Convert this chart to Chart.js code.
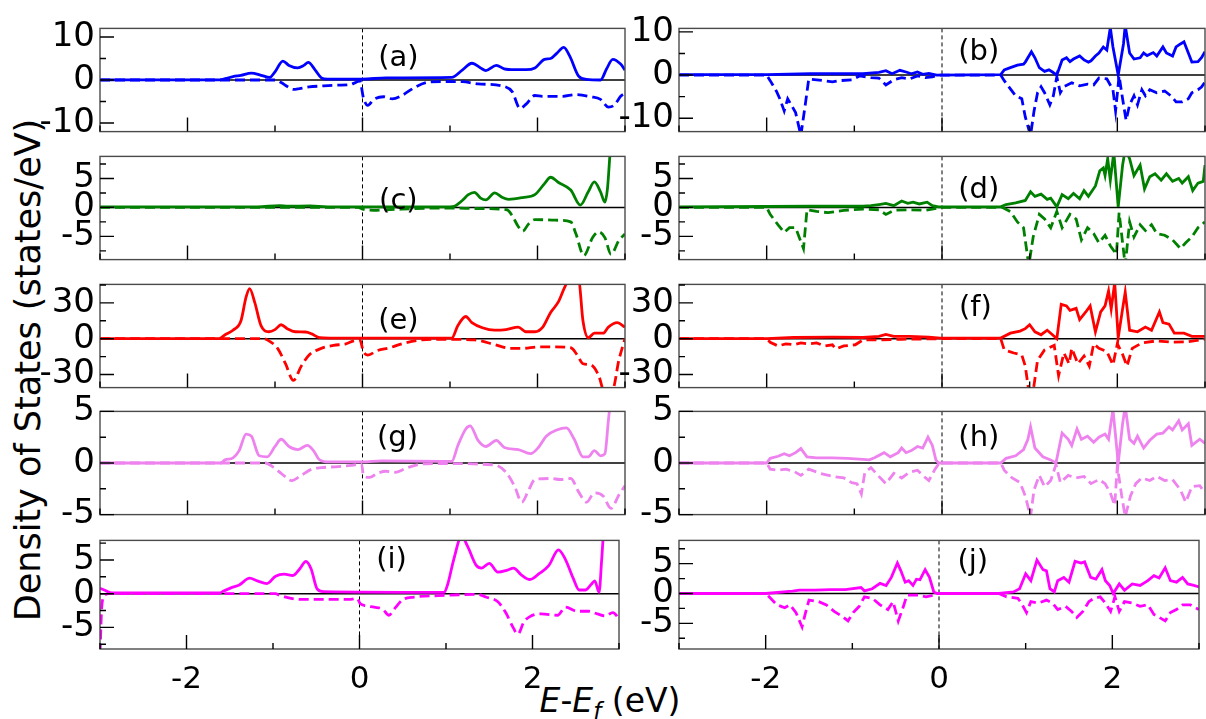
<!DOCTYPE html>
<html>
<head>
<meta charset="utf-8">
<title>Density of States</title>
<script src="https://cdn.jsdelivr.net/npm/chart.js@4.4.0/dist/chart.umd.min.js"></script>
<style>
  body { margin: 0; background: #fff; }
  #fig { position: relative; width: 1206px; height: 719px; overflow: hidden; font-family: "DejaVu Sans", sans-serif; color: #000; }
  .panel { position: absolute; }
  .panel canvas { display: block; }
  #ylab {
    position: absolute; left: -272px; top: 350px; width: 600px; height: 40px;
    line-height: 40px; text-align: center; font-size: 35px; white-space: nowrap;
    transform: rotate(-90deg);
  }
  #xlab {
    position: absolute; left: 460px; top: 682px; width: 300px; height: 38px;
    line-height: 38px; text-align: center; font-size: 33px; white-space: nowrap;
  }
  #xlab i { font-style: oblique; }
  #xlab sub { font-size: 0.7em; vertical-align: -0.3em; line-height: 0; }
</style>
</head>
<body>
<div id="fig">
  <div id="ylab">Density of States (states/eV)</div>
  <div id="xlab"><i>E</i>-<i>E<sub>f</sub></i> (eV)</div>
</div>
<script>
// DOS curves, [E - Ef (eV), states/eV]; "Up" = spin up (solid), "Dn" = spin down (dashed)
const aUp = [[-3,0.05],[-1.63,0.05],[-1.57,0.3],[-1.48,0.8],[-1.39,1.07],[-1.27,1.6],[-1.16,1.1],[-1.06,0.6],[-1.0,1.9],[-0.91,4.4],[-0.84,3.4],[-0.74,2.8],[-0.67,3.4],[-0.62,4.1],[-0.54,2.3],[-0.47,0.5],[-0.40,0.2],[0,0.2],[0.27,0.5],[1.02,0.6],[1.14,2.3],[1.25,3.9],[1.35,2.8],[1.41,2.2],[1.53,3.4],[1.62,2.6],[1.74,2.4],[1.87,2.4],[1.97,2.8],[2.08,4.8],[2.15,5.0],[2.22,6.2],[2.30,7.6],[2.37,5.5],[2.47,0.9],[2.56,0.15],[2.72,0],[2.79,2.6],[2.86,4.8],[2.95,3.7],[3.0,2.3]];
const aDn = [[-3,0],[-1.0,0],[-0.93,-0.6],[-0.86,-1.5],[-0.79,-2.2],[-0.72,-2.0],[-0.61,-1.6],[-0.47,-1.4],[-0.28,-1.2],[-0.15,-1.1],[-0.08,-0.6],[-0.03,-0.2],[0.01,-4.1],[0.06,-5.9],[0.13,-4.5],[0.24,-3.9],[0.34,-4.4],[0.45,-3.6],[0.59,-1.8],[0.73,-0.6],[0.91,-0.35],[1.14,-0.4],[1.32,-0.9],[1.60,-1.4],[1.71,-2.7],[1.80,-6.6],[1.87,-5.6],[1.97,-3.6],[2.06,-3.8],[2.29,-3.8],[2.43,-3.4],[2.61,-3.9],[2.72,-4.5],[2.81,-6.3],[2.88,-5.8],[2.95,-3.8],[3.0,-3.1]];

const bUp = [[-3,0.1],[-2.0,0.1],[-1.5,0.3],[-0.9,0.3],[-0.72,0.6],[-0.64,1.0],[-0.57,0.3],[-0.48,1.1],[-0.41,0.7],[-0.35,0.3],[-0.28,0.7],[-0.22,0.15],[-0.15,0.4],[-0.06,0],[0.67,0.1],[0.71,1.2],[0.78,1.7],[0.86,2.3],[0.93,2.5],[0.95,3.0],[1.02,5.4],[1.06,4.0],[1.11,1.7],[1.17,0.85],[1.22,1.2],[1.26,0.7],[1.31,0],[1.37,3.5],[1.42,4.0],[1.46,3.1],[1.50,3.7],[1.57,4.4],[1.62,3.5],[1.67,3.0],[1.70,3.3],[1.75,4.4],[1.79,5.1],[1.84,6.5],[1.88,5.8],[1.92,11],[1.95,6.5],[2.01,0],[2.07,7.2],[2.09,11.5],[2.14,5.1],[2.19,3.7],[2.26,4.0],[2.30,5.1],[2.34,4.5],[2.41,5.2],[2.45,4.4],[2.52,6.5],[2.56,5.1],[2.63,4.4],[2.67,6.5],[2.72,7.2],[2.76,7.7],[2.81,5.1],[2.85,3.0],[2.92,3.1],[2.96,4.0],[3.0,5.4]];
const bDn = [[-3,0],[-2.0,0],[-1.96,-1.3],[-1.89,-3.7],[-1.85,-5.5],[-1.80,-8.3],[-1.76,-5.5],[-1.72,-6.9],[-1.67,-8.7],[-1.61,-14],[-1.56,-6.9],[-1.52,-0.9],[-1.43,-1.1],[-1.34,-1.3],[-1.25,-1.6],[-1.17,-1.3],[-1.03,-1.1],[-0.94,-0.2],[-0.81,-0.6],[-0.72,-0.7],[-0.64,-2.3],[-0.55,-1.1],[-0.46,-0.6],[-0.37,-0.9],[-0.28,-0.2],[-0.19,-0.6],[-0.11,-0.4],[-0.02,0],[0.67,0],[0.71,-1.3],[0.78,-3.2],[0.84,-4.8],[0.91,-5.5],[0.95,-9.7],[1.01,-14],[1.05,-8.3],[1.09,-4.1],[1.13,-2.7],[1.17,-4.1],[1.23,-6.9],[1.27,-4.8],[1.31,-0.4],[1.35,-4.1],[1.39,-2.7],[1.48,-1.8],[1.57,-2.5],[1.66,-2.1],[1.73,-2.3],[1.79,-0.7],[1.88,-0.9],[1.95,-3.4],[1.98,-8.3],[2.02,-0.2],[2.06,-5.5],[2.10,-10.5],[2.14,-6.9],[2.19,-4.8],[2.23,-6.9],[2.28,-3.4],[2.32,-4.8],[2.37,-3.4],[2.45,-4.1],[2.54,-3.7],[2.61,-4.8],[2.67,-6.2],[2.74,-6.2],[2.81,-5.5],[2.85,-4.1],[2.92,-3.4],[2.96,-2.8],[3.0,-1.6]];

const cUp = [[-3,0.1],[-1.2,0.1],[-0.95,0.3],[-0.85,0.2],[-0.6,0.25],[-0.4,0.1],[1.0,0.1],[1.05,0.2],[1.14,1.2],[1.21,2.2],[1.28,2.6],[1.35,1.6],[1.41,1.3],[1.51,2.5],[1.60,1.7],[1.67,1.4],[1.83,1.7],[1.97,2.2],[2.08,4.1],[2.15,5.2],[2.24,4.3],[2.38,3.0],[2.49,0.4],[2.58,2.7],[2.65,4.4],[2.72,2.7],[2.77,0.9],[2.80,3.3],[2.83,9.5],[2.86,14],[3.0,14]];
const cDn = [[-3,0],[-0.05,0],[0.0,-0.3],[0.13,-0.5],[0.27,-0.4],[0.45,-0.3],[0.91,-0.1],[1.37,-0.2],[1.65,-0.4],[1.71,-1.4],[1.78,-3.3],[1.83,-4.1],[1.90,-2.8],[1.97,-2.1],[2.20,-2.2],[2.38,-2.5],[2.44,-4.6],[2.53,-8.3],[2.63,-5.2],[2.70,-4.2],[2.77,-5.2],[2.84,-8.1],[2.93,-5.7],[3.0,-4.6]];

const dUp = [[-3,0.1],[-1.5,0.2],[-0.9,0.2],[-0.81,0.3],[-0.72,0.5],[-0.64,0.7],[-0.55,0.3],[-0.46,1.1],[-0.39,0.7],[-0.33,0.9],[-0.26,0.6],[-0.17,0.9],[-0.11,0.3],[-0.04,0.1],[0.67,0.1],[0.73,0.5],[0.84,0.8],[0.95,1.2],[1.01,2.7],[1.06,1.9],[1.13,2.3],[1.20,1.4],[1.24,1.6],[1.31,0.1],[1.37,2.2],[1.44,1.5],[1.50,2.4],[1.57,1.5],[1.62,2.9],[1.67,1.9],[1.75,3.7],[1.80,6.3],[1.84,6.8],[1.86,5.5],[1.89,8.4],[1.92,4.7],[1.96,9.5],[2.01,0.1],[2.06,7.3],[2.09,10],[2.14,8.4],[2.19,5.5],[2.26,7.3],[2.31,3.2],[2.37,5.3],[2.43,5.8],[2.50,4.7],[2.56,5.8],[2.63,4.5],[2.70,5.0],[2.74,4.2],[2.81,5.3],[2.86,2.9],[2.92,4.2],[2.98,4.5],[3.0,7.3]];
const dDn = [[-3,0],[-2.0,0],[-1.96,-1.2],[-1.87,-3.0],[-1.80,-4.3],[-1.74,-3.5],[-1.67,-3.5],[-1.63,-5.1],[-1.58,-7.1],[-1.54,-0.4],[-1.43,-0.7],[-1.30,-0.9],[-1.12,-0.5],[-0.90,-0.3],[-0.72,-0.4],[-0.64,-1.2],[-0.55,-0.5],[-0.37,-0.4],[-0.19,-0.5],[-0.06,-0.15],[0,0],[0.69,0],[0.78,-0.7],[0.86,-2.5],[0.93,-3.5],[0.99,-10],[1.04,-5.1],[1.11,-1.2],[1.17,-2.0],[1.24,-3.5],[1.31,-0.7],[1.37,-3.5],[1.46,-1.2],[1.53,-2.0],[1.59,-5.6],[1.66,-3.5],[1.73,-4.5],[1.79,-6.1],[1.86,-4.8],[1.92,-6.6],[1.99,-8.1],[2.02,-0.9],[2.06,-6.1],[2.09,-10],[2.14,-2.5],[2.19,-5.1],[2.26,-3.0],[2.32,-4.0],[2.39,-3.0],[2.45,-4.5],[2.54,-4.8],[2.63,-5.6],[2.72,-7.1],[2.78,-6.1],[2.85,-5.1],[2.92,-3.5],[3.0,-2.5]];

const eUp = [[-3,0],[-1.64,0],[-1.57,3.3],[-1.48,7.1],[-1.39,14.8],[-1.33,35],[-1.29,42],[-1.23,30],[-1.16,11],[-1.07,5.8],[-1.0,7.6],[-0.93,11.7],[-0.86,8.4],[-0.77,5.8],[-0.65,5.6],[-0.58,4],[-0.49,0.8],[-0.38,0.5],[1.02,0.5],[1.09,11],[1.18,18.6],[1.25,13.5],[1.37,9.2],[1.51,7.1],[1.64,7.6],[1.78,9.7],[1.87,5.8],[1.97,5.8],[2.06,9.7],[2.15,22],[2.24,31],[2.31,43],[2.38,52],[2.47,50],[2.52,14.8],[2.58,0.8],[2.65,4.6],[2.75,4.6],[2.81,9.7],[2.91,13.5],[3.0,9.7]];
const eDn = [[-3,0],[-1.13,0],[-1.07,-1.8],[-0.97,-8.1],[-0.88,-21],[-0.79,-35],[-0.70,-23],[-0.61,-13.7],[-0.47,-8.1],[-0.33,-5.6],[-0.19,-4.3],[-0.10,-1.8],[-0.03,-1],[0.01,-10.7],[0.06,-13.7],[0.17,-10],[0.31,-7.6],[0.45,-4.3],[0.68,-1],[0.91,-0.5],[1.28,-1],[1.51,-5],[1.69,-8.1],[1.83,-8.1],[2.01,-6.9],[2.19,-6.9],[2.38,-7.6],[2.45,-13.2],[2.52,-21],[2.61,-22],[2.70,-31],[2.77,-46],[2.86,-43],[2.93,-18],[3.0,0]];

const fUp = [[-3,0],[-2.0,0],[-1.69,1],[-1.25,1.3],[-0.90,1],[-0.72,2],[-0.64,3.6],[-0.55,2],[-0.37,2],[-0.15,1.3],[-0.02,0.5],[0.67,0.5],[0.78,4.6],[0.89,6.4],[0.95,8.4],[1.0,11.7],[1.06,5.8],[1.13,3.3],[1.20,7.1],[1.26,3.3],[1.31,0],[1.36,28.8],[1.42,27.5],[1.46,23.7],[1.53,25.4],[1.57,16],[1.64,22.4],[1.69,27.5],[1.75,5.8],[1.81,22.4],[1.86,27.5],[1.90,40],[1.93,25],[1.97,47],[2.01,0.8],[2.06,25],[2.09,39],[2.14,7.1],[2.23,5.8],[2.32,9.7],[2.39,7.1],[2.48,22.4],[2.52,13.5],[2.59,12.2],[2.65,4.6],[2.76,4.6],[2.85,2],[3.0,2]];
const fDn = [[-3,0],[-2.0,0],[-1.96,-3],[-1.87,-6.1],[-1.78,-4.3],[-1.69,-5.1],[-1.61,-3.6],[-1.52,-4.3],[-1.43,-3.6],[-1.34,-6.1],[-1.25,-5.1],[-1.21,-8.6],[-1.12,-6.1],[-0.99,-5.1],[-0.90,-1],[-0.72,-1],[-0.46,-0.5],[-0.02,0],[0.67,0],[0.71,-9.4],[0.82,-12],[0.91,-13.7],[0.95,-23],[0.99,-44],[1.04,-44],[1.09,-18],[1.17,-9.4],[1.28,-5.6],[1.33,-31],[1.39,-12],[1.45,-21],[1.48,-8.1],[1.55,-21],[1.62,-14.5],[1.68,-23],[1.73,-4.3],[1.79,-8.1],[1.88,-10.7],[1.95,-22],[2.0,-4.3],[2.06,-13.2],[2.11,-23],[2.17,-8.1],[2.28,-3.6],[2.45,-1.8],[2.63,-3],[2.81,-2.5],[3.0,-0.5]];

const gUp = [[-3,0],[-1.62,0],[-1.57,0.3],[-1.48,0.5],[-1.41,1.2],[-1.33,2.8],[-1.27,2.6],[-1.18,0.7],[-1.09,0.6],[-1.0,1.6],[-0.93,2.3],[-0.84,1.6],[-0.74,1.3],[-0.63,1.7],[-0.56,1.2],[-0.49,0.3],[-0.38,0.1],[0,0.1],[0.22,0.2],[0.91,0.15],[1.02,0.15],[1.09,1.7],[1.18,3.3],[1.23,3.6],[1.32,2.2],[1.41,1.6],[1.53,2.2],[1.62,1.5],[1.78,1.3],[1.92,0.9],[2.01,1.5],[2.10,2.6],[2.22,3.2],[2.33,3.4],[2.42,2.3],[2.52,0.6],[2.58,0.6],[2.65,1.2],[2.72,0.7],[2.77,0.9],[2.81,4.1],[2.84,6.5],[2.88,9],[3.0,9]];
const gDn = [[-3,0],[-1.11,0],[-1.02,-0.4],[-0.93,-1.0],[-0.81,-1.7],[-0.70,-1.2],[-0.58,-0.6],[-0.47,-0.45],[-0.28,-0.35],[-0.10,-0.2],[-0.01,-0.1],[0.01,-1.2],[0.08,-1.4],[0.17,-1.0],[0.27,-0.8],[0.38,-0.9],[0.50,-0.5],[0.68,-0.1],[0.91,-0.05],[1.51,-0.2],[1.64,-0.9],[1.74,-2.3],[1.82,-3.8],[1.90,-2.6],[1.97,-1.6],[2.15,-1.5],[2.26,-1.6],[2.38,-1.5],[2.47,-2.8],[2.56,-3.8],[2.65,-2.9],[2.75,-3.2],[2.84,-4.4],[2.93,-3.1],[3.0,-2.2]];

const hUp = [[-3,0],[-2.0,0],[-1.96,0.45],[-1.87,0.65],[-1.80,0.9],[-1.74,0.7],[-1.67,1.0],[-1.61,1.4],[-1.54,0.6],[-1.43,0.5],[-1.25,0.5],[-1.08,0.45],[-0.90,0.35],[-0.83,0.3],[-0.77,0.5],[-0.66,1.0],[-0.59,0.6],[-0.50,1.0],[-0.46,1.45],[-0.41,1.0],[-0.35,1.2],[-0.28,1.6],[-0.22,1.45],[-0.16,2.5],[-0.11,1.7],[-0.07,0.3],[-0.04,0],[0.67,0],[0.73,0.45],[0.84,0.7],[0.93,1.3],[0.98,2.3],[1.01,3.5],[1.06,1.45],[1.15,0.6],[1.24,0.3],[1.30,0],[1.37,2.9],[1.44,2.3],[1.48,1.7],[1.54,3.3],[1.59,2.3],[1.66,2.6],[1.73,2.0],[1.79,2.5],[1.86,2.8],[1.90,2.3],[1.95,5.2],[2.01,0],[2.06,3.8],[2.09,5.5],[2.14,2.3],[2.19,1.9],[2.23,2.6],[2.30,1.45],[2.37,2.2],[2.45,2.8],[2.52,2.9],[2.59,3.5],[2.63,3.2],[2.70,4.1],[2.74,3.2],[2.81,3.8],[2.85,1.7],[2.94,2.3],[3.0,1.9]];
const hDn = [[-3,0],[-2.0,0],[-1.96,-0.6],[-1.87,-0.7],[-1.78,-0.6],[-1.69,-0.8],[-1.61,-1.2],[-1.52,-0.6],[-1.39,-1.0],[-1.25,-1.3],[-1.12,-1.45],[-1.03,-1.9],[-0.97,-2.0],[-0.92,-3.0],[-0.88,-0.9],[-0.81,-0.45],[-0.72,-1.3],[-0.64,-2.0],[-0.55,-1.0],[-0.46,-1.45],[-0.37,-0.9],[-0.28,-0.7],[-0.22,-1.2],[-0.15,-1.7],[-0.08,-0.6],[-0.03,0],[0.67,0],[0.71,-0.7],[0.80,-1.45],[0.89,-1.9],[0.95,-3.2],[1.01,-5.2],[1.05,-2.6],[1.11,-1.2],[1.17,-2.3],[1.24,-1.7],[1.30,-0.15],[1.35,-1.9],[1.44,-1.2],[1.53,-1.45],[1.62,-1.3],[1.70,-2.0],[1.79,-1.6],[1.86,-2.0],[1.92,-2.9],[1.97,-4.1],[2.00,-0.3],[2.05,-3.2],[2.09,-5.2],[2.15,-3.2],[2.21,-2.0],[2.28,-1.45],[2.37,-1.7],[2.45,-1.3],[2.54,-1.7],[2.63,-1.6],[2.72,-2.6],[2.78,-3.8],[2.85,-2.3],[2.94,-2.2],[3.0,-2.9]];

const iUp = [[-3,0.8],[-2.95,0.55],[-2.86,0.1],[-1.62,0.1],[-1.57,0.4],[-1.48,0.9],[-1.39,1.3],[-1.27,2.3],[-1.18,1.9],[-1.07,1.5],[-0.97,2.6],[-0.87,2.9],[-0.77,2.7],[-0.69,3.7],[-0.62,4.8],[-0.56,3.7],[-0.49,0.7],[-0.42,0.3],[0.91,0.2],[0.98,0.2],[1.02,1.4],[1.09,5.1],[1.18,8.5],[1.25,7.0],[1.35,4.2],[1.41,3.8],[1.50,4.5],[1.60,3.2],[1.71,3.5],[1.78,3.8],[1.87,2.8],[1.97,2.1],[2.08,3.0],[2.19,4.2],[2.30,6.5],[2.38,5.1],[2.47,2.3],[2.54,0.55],[2.61,0.55],[2.68,1.4],[2.72,1.9],[2.77,0.2],[2.80,5.1],[2.83,10],[3.0,12]];
const iDn = [[-3,-9],[-2.98,-2],[-2.95,-0.3],[-2.9,0],[-0.97,0],[-0.93,-0.2],[-0.79,-0.7],[-0.65,-0.85],[-0.10,-0.85],[-0.03,-0.7],[0.01,-1.5],[0.08,-1.8],[0.17,-2.0],[0.27,-2.3],[0.34,-3.2],[0.40,-2.3],[0.50,-0.9],[0.63,-0.5],[0.91,-0.3],[1.37,-0.1],[1.46,-0.5],[1.60,-1.2],[1.69,-2.8],[1.78,-5.1],[1.83,-6.0],[1.90,-4.2],[1.97,-3.4],[2.10,-3.0],[2.29,-3.2],[2.38,-2.0],[2.52,-2.6],[2.65,-2.6],[2.75,-3.0],[2.84,-3.3],[2.93,-2.8],[3.0,-3.7]];

const jUp = [[-3,0],[-2.0,0],[-1.69,0.4],[-1.61,0.55],[-1.43,0.55],[-1.25,0.65],[-1.08,0.65],[-0.90,1.0],[-0.86,0.45],[-0.77,0.8],[-0.68,1.7],[-0.61,1.35],[-0.55,2.7],[-0.48,5.1],[-0.44,3.8],[-0.39,1.9],[-0.35,2.15],[-0.30,1.35],[-0.26,2.4],[-0.22,2.3],[-0.16,4.0],[-0.11,2.7],[-0.06,0.27],[-0.02,0],[0.69,0],[0.86,0.27],[0.93,0.8],[1.0,3.3],[1.06,2.15],[1.13,5.6],[1.20,4.0],[1.24,3.8],[1.28,0.8],[1.33,0.27],[1.37,2.15],[1.44,2.7],[1.50,1.9],[1.57,5.4],[1.64,5.1],[1.68,5.3],[1.75,2.7],[1.81,2.4],[1.88,4.0],[1.92,2.15],[1.97,1.35],[2.01,0],[2.08,1.6],[2.14,0.55],[2.23,1.6],[2.32,1.35],[2.41,2.15],[2.48,3.0],[2.54,2.6],[2.61,4.3],[2.67,2.15],[2.74,1.9],[2.81,2.7],[2.87,1.6],[2.94,1.35],[3.0,1.1]];
const jDn = [[-3,0],[-2.0,0],[-1.96,-0.55],[-1.87,-1.9],[-1.78,-2.4],[-1.72,-1.9],[-1.65,-3.2],[-1.58,-5.6],[-1.54,-3.2],[-1.50,-1.1],[-1.39,-1.35],[-1.30,-1.9],[-1.21,-3.0],[-1.12,-3.8],[-1.05,-4.6],[-0.99,-3.2],[-0.92,-2.15],[-0.86,-0.55],[-0.77,-0.8],[-0.68,-1.9],[-0.59,-2.7],[-0.53,-1.35],[-0.47,-4.6],[-0.41,-2.15],[-0.37,-0.27],[-0.24,-0.27],[-0.15,-0.55],[-0.06,-0.27],[-0.02,0],[0.69,0],[0.78,-0.55],[0.91,-0.8],[0.95,-1.6],[1.01,-3.2],[1.06,-1.35],[1.15,-1.6],[1.24,-1.1],[1.31,-1.6],[1.37,-2.7],[1.46,-2.15],[1.53,-3.0],[1.59,-4.0],[1.66,-3.0],[1.73,-1.35],[1.79,-0.8],[1.86,-0.55],[1.92,-1.6],[1.98,-3.0],[2.03,-0.55],[2.08,-3.0],[2.14,-1.35],[2.23,-1.6],[2.32,-2.15],[2.41,-1.9],[2.48,-3.5],[2.54,-4.0],[2.61,-4.6],[2.67,-3.2],[2.74,-2.7],[2.81,-1.9],[2.90,-1.9],[3.0,-2.7]];

// energy axis ticks (labels only on the even ones)
const xTicks = [-3, -2, -1, 0, 1, 2, 3];
const xLabels = [-2, 0, 2];

// y ranges and ticks per panel
const yLimits = {
  a: [-12, 12], b: [-13.1, 10.8], c: [-9, 8.8], d: [-9, 8.8], e: [-41, 45.5],
  f: [-41, 45.5], g: [-5, 5], h: [-5, 5], i: [-8.2, 7.9], j: [-9.3, 8.9]
};
const yMajor = {
  a: [-10, 0, 10], b: [-10, 0, 10], c: [-5, 0, 5], d: [-5, 0, 5], e: [-30, 0, 30],
  f: [-30, 0, 30], g: [-5, 0, 5], h: [-5, 0, 5], i: [-5, 0, 5], j: [-5, 0, 5]
};
const yMinor = {
  a: [-5, 5], b: [-5, 5], c: [-7.5, -2.5, 2.5, 7.5], d: [-7.5, -2.5, 2.5, 7.5], e: [-15, 15, 45],
  f: [-15, 15, 45], g: [-2.5, 2.5], h: [-2.5, 2.5], i: [-7.5, -2.5, 2.5, 7.5], j: [-7.5, -2.5, 2.5, 7.5]
};

// page layout
const columns = [{ left: 100, width: 525 }, { left: 679, width: 526 }];
const rowTop = [23, 151, 279, 406, 535];
const rowH = 114;
const axisW = 90, padTop = 20, padRight = 6;

const panels = [
  { tag: 'a', up: aUp, dn: aDn, color: '#0000ff', col: 0, row: 0, tagX: 0.41, tagDy: 30 },
  { tag: 'b', up: bUp, dn: bDn, color: '#0000ff', col: 1, row: 0, tagX: 0.42, tagDy: 24 },
  { tag: 'c', up: cUp, dn: cDn, color: '#008000', col: 0, row: 1, tagX: 0.41, tagDy: 45 },
  { tag: 'd', up: dUp, dn: dDn, color: '#008000', col: 1, row: 1, tagX: 0.42, tagDy: 34 },
  { tag: 'e', up: eUp, dn: eDn, color: '#ff0000', col: 0, row: 2, tagX: 0.41, tagDy: 37 },
  { tag: 'f', up: fUp, dn: fDn, color: '#ff0000', col: 1, row: 2, tagX: 0.38, tagDy: 24 },
  { tag: 'g', up: gUp, dn: gDn, color: '#ee82ee', col: 0, row: 3, tagX: 0.40, tagDy: 27 },
  { tag: 'h', up: hUp, dn: hDn, color: '#ee82ee', col: 1, row: 3, tagX: 0.42, tagDy: 27 },
  { tag: 'i', up: iUp, dn: iDn, color: '#ff00ff', col: 0, row: 4, tagX: 0.37, tagDy: 20 },
  { tag: 'j', up: jUp, dn: jDn, color: '#ff00ff', col: 1, row: 4, tagX: 0.39, tagDy: 22 }
];

// zero line, Fermi level, frame, inward ticks and panel letter
const decor = {
  id: 'decor',
  beforeDatasetsDraw(chart) {
    const { ctx, chartArea: a, scales: { x, y } } = chart;
    ctx.save();
    ctx.strokeStyle = '#000';
    ctx.lineWidth = 1.5;
    const y0 = y.getPixelForValue(0);
    ctx.beginPath(); ctx.moveTo(a.left, y0); ctx.lineTo(a.right, y0); ctx.stroke();
    const x0 = x.getPixelForValue(0);
    ctx.lineWidth = 1;
    ctx.setLineDash([4, 3]);
    ctx.beginPath(); ctx.moveTo(x0, a.top); ctx.lineTo(x0, a.bottom); ctx.stroke();
    ctx.restore();
  },
  afterDatasetsDraw(chart, args, opts) {
    const { ctx, chartArea: a, scales: { x, y } } = chart;
    ctx.save();
    ctx.strokeStyle = '#4a4a4a';
    ctx.lineWidth = 1.4;
    ctx.strokeRect(a.left, a.top, a.right - a.left, a.bottom - a.top);
    ctx.strokeStyle = '#000';
    ctx.lineWidth = 1.4;
    ctx.beginPath();
    y.ticks.forEach(t => {
      const py = y.getPixelForValue(t.value);
      const len = t.label ? 14 : 6;
      ctx.moveTo(a.left, py); ctx.lineTo(a.left + len, py);
    });
    x.ticks.forEach(t => {
      const px = x.getPixelForValue(t.value);
      const len = xLabels.includes(t.value) ? 14 : 6;
      ctx.moveTo(px, a.bottom); ctx.lineTo(px, a.bottom - len);
    });
    ctx.stroke();
    ctx.fillStyle = '#000';
    ctx.font = '29px "DejaVu Sans"';
    ctx.textAlign = 'center';
    ctx.textBaseline = 'middle';
    ctx.fillText('(' + opts.tag + ')', x.getPixelForValue(opts.tagX), a.top + opts.tagDy);
    ctx.restore();
  }
};

const fig = document.getElementById('fig');

panels.forEach(p => {
  const col = columns[p.col];
  const bottomRow = p.row === rowTop.length - 1;
  const xAxisH = bottomRow ? 50 : 0;
  const padBottom = bottomRow ? 0 : 20;
  const W = axisW + col.width + padRight;
  const H = padTop + rowH + xAxisH + padBottom;

  const wrap = document.createElement('div');
  wrap.className = 'panel';
  wrap.style.left = (col.left - axisW) + 'px';
  wrap.style.top = (rowTop[p.row] - padTop) + 'px';
  const canvas = document.createElement('canvas');
  canvas.width = W;
  canvas.height = H;
  canvas.style.width = W + 'px';
  canvas.style.height = H + 'px';
  wrap.appendChild(canvas);
  fig.appendChild(wrap);

  const smooth = p.col === 0;
  const line = (pts, dashed) => ({
    data: pts.map(([e, v]) => ({ x: e, y: v })),
    borderColor: p.color,
    borderWidth: 2.8,
    borderDash: dashed ? [10, 5] : [],
    pointRadius: 0,
    tension: 0,
    cubicInterpolationMode: smooth ? 'monotone' : 'default',
    fill: false
  });

  const yTicks = yMinor[p.tag].concat(yMajor[p.tag]).sort((m, n) => m - n);

  new Chart(canvas, {
    type: 'line',
    data: { datasets: [line(p.dn, true), line(p.up, false)] },
    options: {
      responsive: false,
      animation: false,
      events: [],
      layout: { padding: { top: padTop, right: padRight, bottom: padBottom, left: 0 } },
      plugins: { legend: { display: false }, tooltip: { enabled: false }, decor: p },
      scales: {
        x: {
          type: 'linear',
          min: -3,
          max: 3,
          grid: { display: false, drawTicks: false },
          border: { display: false },
          afterBuildTicks: s => { s.ticks = xTicks.map(v => ({ value: v })); },
          afterFit: s => { s.height = xAxisH; },
          ticks: {
            display: bottomRow,
            autoSkip: false,
            maxRotation: 0,
            padding: 12,
            color: '#000',
            font: { family: 'DejaVu Sans', size: 31 },
            callback: v => xLabels.includes(v) ? String(v) : ''
          }
        },
        y: {
          type: 'linear',
          min: yLimits[p.tag][0],
          max: yLimits[p.tag][1],
          grid: { display: false, drawTicks: false },
          border: { display: false },
          afterBuildTicks: s => { s.ticks = yTicks.map(v => ({ value: v })); },
          afterFit: s => { s.width = axisW; },
          ticks: {
            autoSkip: false,
            padding: 5,
            color: '#000',
            font: { family: 'DejaVu Sans', size: 34 },
            callback: v => yMajor[p.tag].includes(v) ? String(v) : ''
          }
        }
      }
    },
    plugins: [decor]
  });
});
</script>
</body>
</html>
